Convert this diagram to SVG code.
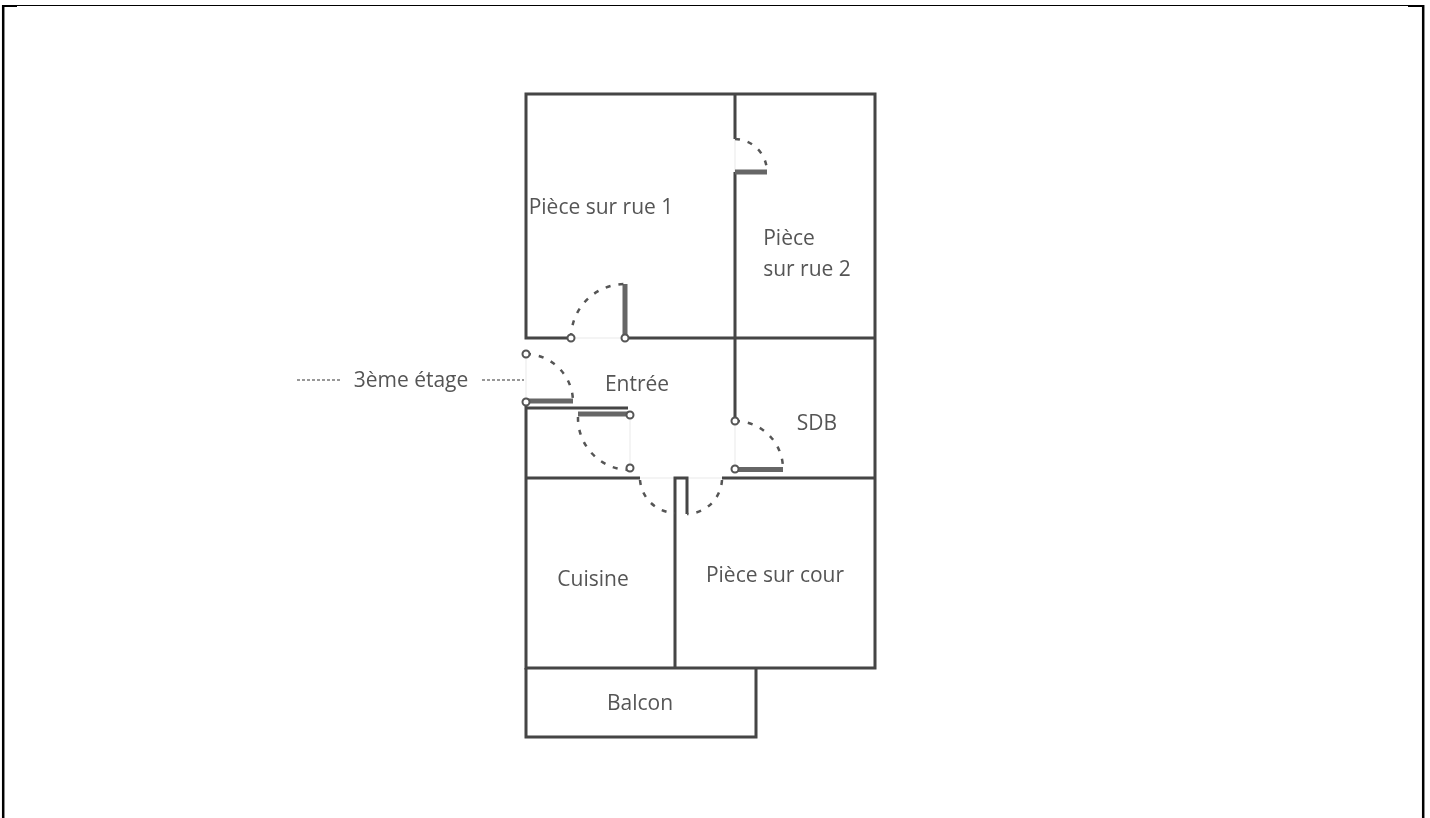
<svg xmlns="http://www.w3.org/2000/svg" width="1430" height="818" viewBox="0 0 1430 818">
<defs><filter id="soft" x="-5%" y="-5%" width="110%" height="110%"><feGaussianBlur stdDeviation="0.6"/></filter></defs>
<style>
.w{fill:none;stroke:#444;stroke-width:3}
.l{fill:none;stroke:#666;stroke-width:5}
.o{fill:none;stroke:#f1f1f1;stroke-width:1.5}
.a{fill:none;stroke:#555;stroke-width:2.5;stroke-dasharray:5 8}
.c{fill:#fff;stroke:#555;stroke-width:2}
.d{fill:none;stroke:#777;stroke-width:1.5;stroke-dasharray:3 2}
.f{fill:none;stroke:#000}
text{font-family:"Open Sans","Noto Sans",sans-serif;font-size:21px;fill:#555;text-anchor:middle}
</style>
<rect width="1430" height="818" fill="#fff"/>
<path class="f" stroke-width="1" d="M2 5.5H1424"/>
<path class="f" stroke-width="2" d="M2 6H17M1408 6H1424"/>
<path class="f" stroke-width="2.5" d="M3.2 5V818M1423.2 5V818"/>
<g filter="url(#soft)">
<g id="walls">
<path class="o" d="M571 338H625M526 354V402M630 415V470M735 421V469M640 478H722M735 139V172"/>
<path class="w" d="M571 338H526V94H875V668H526V402"/>
<path class="w" d="M625 338H875M526 478H640M722 478H875M735 94V139M735 172V421"/>
<path class="w" d="M675 668V478H687V514"/>
<path class="w" d="M526 668V737H756V668"/>
<path class="w" d="M526 408H628"/>
</g>
<g id="doors">
<path class="l" d="M625 284V338M526 401H573M735 469.500H783M735 172H767"/>
<path class="l" stroke-width="9" d="M578 414H631"/>
<path class="a" d="M571 338A54 54 0 0 1 625 284"/>
<path class="a" d="M526 354A48 48 0 0 1 573 402"/>
<path class="a" d="M578 417A52 52 0 0 0 630 470"/>
<path class="a" d="M735 421A48 48 0 0 1 783 468"/>
<path class="a" d="M735 139A33 33 0 0 1 767 172"/>
<path class="a" d="M640 480A36 36 0 0 0 675 513"/>
<path class="a" d="M722 480A36 36 0 0 1 687 514"/>
<circle class="c" cx="571" cy="338" r="3.500"/><circle class="c" cx="625" cy="338" r="3.500"/>
<circle class="c" cx="526" cy="354" r="3.500"/><circle class="c" cx="526" cy="402" r="3.500"/>
<circle class="c" cx="630" cy="415" r="3.500"/><circle class="c" cx="630" cy="468" r="3.500"/>
<circle class="c" cx="735" cy="421" r="3.500"/><circle class="c" cx="735" cy="469" r="3.500"/>
</g>
<g id="connectors"><path class="d" d="M297 380H340M482 380H524"/></g>
<g id="labels">
<text x="601" y="214">Pièce sur rue 1</text>
<text x="789" y="245">Pièce</text>
<text x="807" y="276">sur rue 2</text>
<text x="411" y="387">3ème étage</text>
<text x="637" y="391">Entrée</text>
<text x="817" y="430">SDB</text>
<text x="593" y="586">Cuisine</text>
<text x="775" y="582">Pièce sur cour</text>
<text x="640" y="710">Balcon</text>
</g>
</g>
</svg>
